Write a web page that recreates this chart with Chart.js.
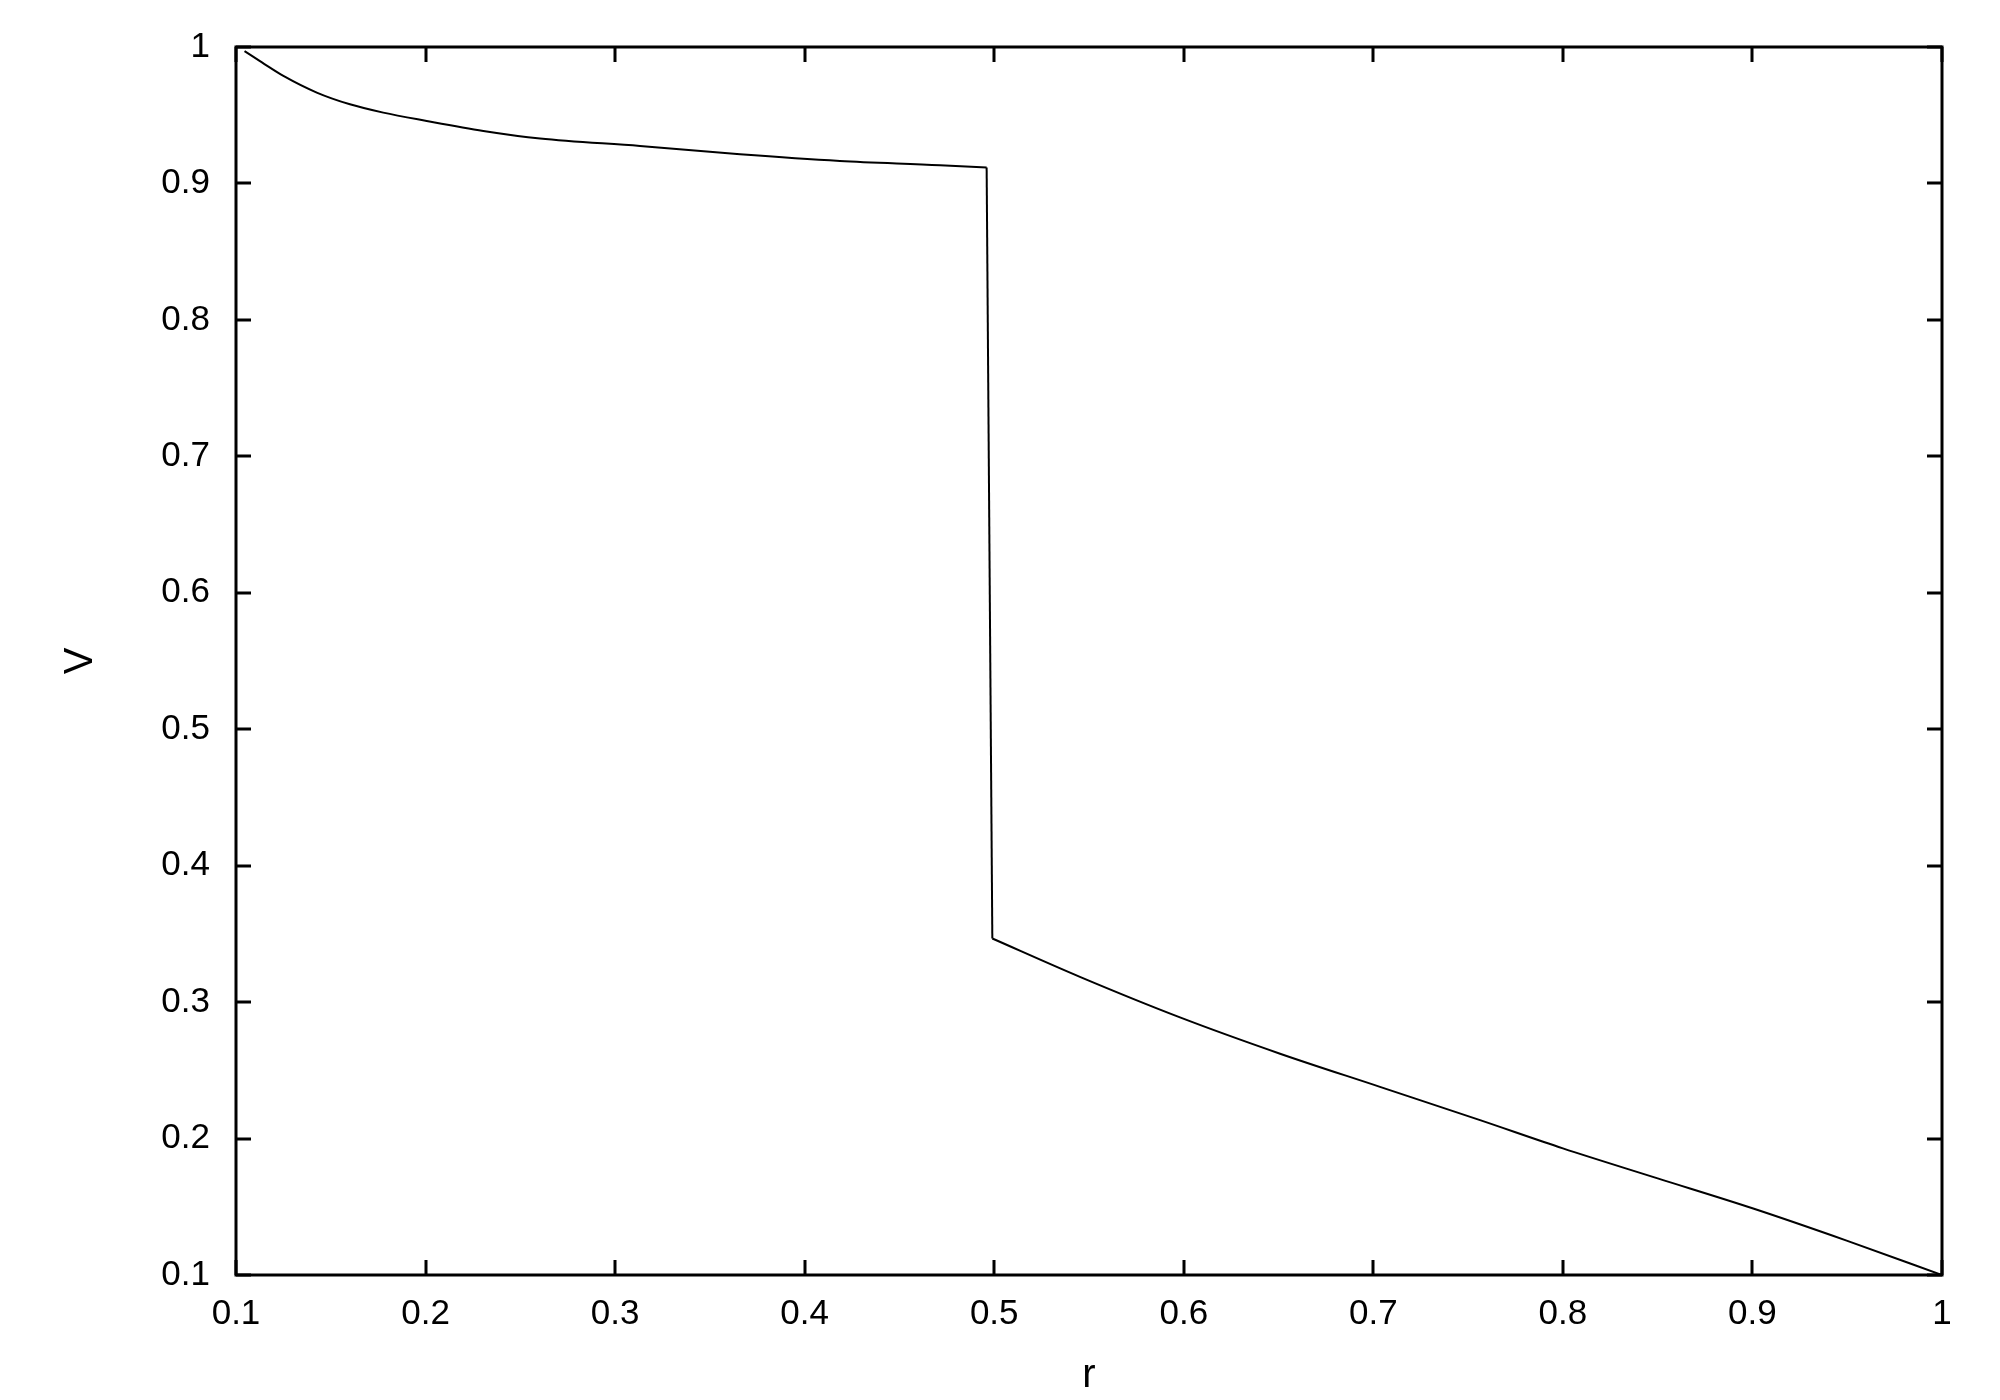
<!DOCTYPE html>
<html>
<head>
<meta charset="utf-8">
<script src="https://cdn.jsdelivr.net/npm/chart.js@4/dist/chart.umd.min.js"></script>
<style>
  html, body { margin: 0; padding: 0; background: #ffffff; }
  #wrap { width: 2000px; height: 1400px; }
</style>
</head>
<body>
<div id="wrap"><canvas id="c" width="2000" height="1400"></canvas></div>
<script>
// ---- data ----
const rUpper = [0.1045, 0.115, 0.125, 0.1426, 0.1601, 0.1777, 0.2006, 0.2305, 0.2604, 0.3131, 0.3659, 0.4186, 0.4714, 0.496];
const vUpper = [0.997, 0.9875, 0.9788, 0.9666, 0.958, 0.9519, 0.9458, 0.9385, 0.9329, 0.9275, 0.9214, 0.9165, 0.9134, 0.9116];
const rLower = [0.499, 0.5452, 0.598, 0.6508, 0.7035, 0.7563, 0.8, 0.85, 0.9, 0.9497, 1.0];
const vLower = [0.3466, 0.3185, 0.2888, 0.2622, 0.2379, 0.2135, 0.1928, 0.1708, 0.1489, 0.1252, 0.1];
const xTickValues = [0.1, 0.2, 0.3, 0.4, 0.5, 0.6, 0.7, 0.8, 0.9, 1];
const xTickLabels = ['0.1', '0.2', '0.3', '0.4', '0.5', '0.6', '0.7', '0.8', '0.9', '1'];
const yTickValues = [0.1, 0.2, 0.3, 0.4, 0.5, 0.6, 0.7, 0.8, 0.9, 1];
const yTickLabels = ['0.1', '0.2', '0.3', '0.4', '0.5', '0.6', '0.7', '0.8', '0.9', '1'];
const xTitle = 'r';
const yTitle = 'V';

const upperPts = rUpper.map((r, i) => ({ x: r, y: vUpper[i] }));
const lowerPts = rLower.map((r, i) => ({ x: r, y: vLower[i] }));
// the jump joins the last upper point to the first lower point
const jumpPts = [upperPts[upperPts.length - 1], lowerPts[0]];

function labelFor(values, labels, v) {
  for (let i = 0; i < values.length; i++) {
    if (Math.abs(values[i] - v) < 1e-6) return labels[i];
  }
  return '';
}

const FONT = "'Liberation Sans', Arial, Helvetica, sans-serif";
const AREA = { left: 236, top: 46, right: 1942, bottom: 1275 };

const framePlugin = {
  id: 'frame',
  afterDatasetsDraw(chart) {
    const ctx = chart.ctx;
    const a = chart.chartArea;
    const xs = chart.scales.x, ys = chart.scales.y;
    const TL = 15;
    ctx.save();
    ctx.strokeStyle = '#000';
    ctx.lineWidth = 3;
    ctx.lineCap = 'butt';
    ctx.beginPath();
    xTickValues.forEach(v => {
      const px = Math.round(xs.getPixelForValue(v));
      ctx.moveTo(px, a.bottom); ctx.lineTo(px, a.bottom - TL);
      ctx.moveTo(px, a.top); ctx.lineTo(px, a.top + TL);
    });
    yTickValues.forEach(v => {
      const py = Math.round(ys.getPixelForValue(v));
      ctx.moveTo(a.left, py); ctx.lineTo(a.left + TL, py);
      ctx.moveTo(a.right, py); ctx.lineTo(a.right - TL, py);
    });
    ctx.stroke();
    ctx.strokeRect(a.left, a.top, a.right - a.left, a.bottom - a.top);
    ctx.restore();
  }
};

const lineStyle = {
  showLine: true,
  borderColor: '#000',
  borderWidth: 2,
  pointRadius: 0,
  fill: false
};

new Chart(document.getElementById('c'), {
  type: 'scatter',
  data: {
    datasets: [
      Object.assign({ data: upperPts, cubicInterpolationMode: 'monotone' }, lineStyle),
      Object.assign({ data: jumpPts, tension: 0 }, lineStyle),
      Object.assign({ data: lowerPts, cubicInterpolationMode: 'monotone' }, lineStyle)
    ]
  },
  options: {
    responsive: false,
    animation: false,
    devicePixelRatio: 1,
    layout: { padding: { left: 0, top: AREA.top, right: 2000 - AREA.right, bottom: 0 } },
    plugins: { legend: { display: false }, tooltip: { enabled: false } },
    scales: {
      x: {
        type: 'linear',
        min: 0.1, max: 1,
        grid: { display: false, drawTicks: false },
        border: { display: false },
        afterBuildTicks: s => { s.ticks = xTickValues.map(v => ({ value: v })); },
        afterFit: s => { s.height = 1400 - AREA.bottom; },
        ticks: {
          color: '#000',
          padding: 18,
          maxRotation: 0,
          autoSkip: false,
          font: { family: FONT, size: 35 },
          callback: v => labelFor(xTickValues, xTickLabels, v)
        },
        title: {
          display: true, text: xTitle, color: '#000',
          font: { family: FONT, size: 40 },
          padding: { top: 0, bottom: 0 }
        }
      },
      y: {
        type: 'linear',
        min: 0.1, max: 1,
        grid: { display: false, drawTicks: false },
        border: { display: false },
        afterBuildTicks: s => { s.ticks = yTickValues.map(v => ({ value: v })); },
        afterFit: s => { s.width = AREA.left; },
        ticks: {
          color: '#000',
          padding: 26,
          autoSkip: false,
          font: { family: FONT, size: 35 },
          callback: v => labelFor(yTickValues, yTickLabels, v)
        },
        title: {
          display: true, text: yTitle, color: '#000',
          font: { family: FONT, size: 40 },
          padding: { top: 57, bottom: 0 }
        }
      }
    }
  },
  plugins: [framePlugin]
});
</script>
</body>
</html>
